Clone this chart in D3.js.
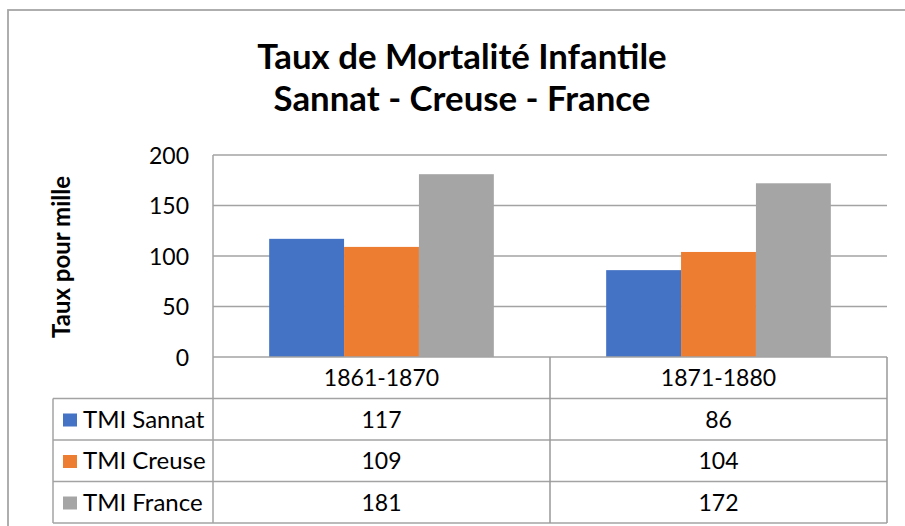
<!DOCTYPE html>
<html>
<head>
<meta charset="utf-8">
<script src="https://cdn.jsdelivr.net/npm/d3@7"></script>
<style>
  body { margin: 0; background: #fff; }
  svg { display: block; font-family: Lato, "Open Sans", sans-serif; }
</style>
</head>
<body>
<svg id="chart" width="905" height="526"></svg>
<script>
// data
const categories = ["1861-1870", "1871-1880"];
const seriesNames = ["TMI Sannat", "TMI Creuse", "TMI France"];
const sannat = [117, 86];
const creuse = [109, 104];
const france = [181, 172];
const seriesColors = ["#4472C4", "#ED7D31", "#A5A5A5"];
const yTicks = [0, 50, 100, 150, 200];
const titleLines = ["Taux de Mortalité Infantile", "Sannat - Creuse - France"];

const seriesValues = [sannat, creuse, france];

const svg = d3.select("#chart");
const plot = { left: 213, right: 887, top: 155, bottom: 357 };
const rowH = 41.5;
const legendLeft = 53;
const lineColor = "#a3a3a3";

// outer chart border (runs off the right/bottom edge)
svg.append("rect")
    .attr("x", 8).attr("y", 10)
    .attr("width", 920).attr("height", 540)
    .attr("fill", "none")
    .attr("stroke", "#a6a6a6")
    .attr("stroke-width", 1.8);

// title
svg.append("g").selectAll("text")
    .data(titleLines)
    .enter()
    .append("text")
    .attr("x", 462)
    .attr("y", (d, i) => 69 + i * 42)
    .attr("text-anchor", "middle")
    .attr("font-weight", "bold")
    .attr("font-size", "34.8px")
    .attr("fill", "#000")
    .text(d => d);

const x = d3.scaleBand()
    .domain(categories)
    .range([plot.left, plot.right]);

const bw = x.bandwidth();
const xs = d3.scaleBand()
    .domain(seriesNames)
    .range([bw / 6, bw * 5 / 6]);

const y = d3.scaleLinear()
    .domain([0, 200])
    .range([plot.bottom, plot.top]);

// gridlines
svg.append("g").selectAll("line")
    .data(yTicks.filter(t => t > 0))
    .enter()
    .append("line")
    .attr("x1", plot.left).attr("x2", plot.right)
    .attr("y1", d => y(d)).attr("y2", d => y(d))
    .attr("stroke", lineColor)
    .attr("stroke-width", 1.3);

// y axis labels
const yAxis = svg.append("g")
    .attr("transform", `translate(${plot.left - 24},0)`)
    .call(d3.axisLeft(y).tickValues(yTicks).tickSize(0).tickPadding(0));
yAxis.select(".domain").remove();
yAxis.selectAll("text")
    .attr("font-family", "Lato, sans-serif")
    .attr("font-size", "23px")
    .attr("fill", "#000")
    .attr("dy", "0.36em");

svg.append("text")
    .attr("transform", `translate(70,257) rotate(-90)`)
    .attr("text-anchor", "middle")
    .attr("font-weight", "bold")
    .attr("font-size", "24px")
    .attr("fill", "#000")
    .text("Taux pour mille");

// bars
const barData = [];
seriesNames.forEach((s, si) => {
    categories.forEach((c, ci) => {
        barData.push({ series: s, cat: c, value: seriesValues[si][ci], color: seriesColors[si] });
    });
});

svg.append("g").selectAll("rect")
    .data(barData)
    .enter()
    .append("rect")
    .attr("x", d => x(d.cat) + xs(d.series))
    .attr("y", d => y(d.value))
    .attr("width", xs.bandwidth())
    .attr("height", d => y(0) - y(d.value))
    .attr("fill", d => d.color);

// data table
const table = svg.append("g");
const tableBottom = plot.bottom + rowH * (seriesNames.length + 1);

// horizontal lines
table.append("line")
    .attr("x1", plot.left).attr("x2", plot.right)
    .attr("y1", plot.bottom).attr("y2", plot.bottom)
    .attr("stroke", lineColor).attr("stroke-width", 1.5);
d3.range(1, seriesNames.length + 2).forEach(i => {
    table.append("line")
        .attr("x1", legendLeft).attr("x2", plot.right)
        .attr("y1", plot.bottom + i * rowH).attr("y2", plot.bottom + i * rowH)
        .attr("stroke", lineColor).attr("stroke-width", 1.5);
});

// vertical lines
table.append("line")
    .attr("x1", legendLeft).attr("x2", legendLeft)
    .attr("y1", plot.bottom + rowH).attr("y2", tableBottom)
    .attr("stroke", lineColor).attr("stroke-width", 1.5);
table.append("line")
    .attr("x1", plot.left).attr("x2", plot.left)
    .attr("y1", plot.top).attr("y2", tableBottom)
    .attr("stroke", lineColor).attr("stroke-width", 1.5);
categories.forEach(c => {
    table.append("line")
        .attr("x1", x(c) + bw).attr("x2", x(c) + bw)
        .attr("y1", plot.bottom).attr("y2", tableBottom)
        .attr("stroke", "#999").attr("stroke-width", 1.5);
});

// header
table.selectAll(".hdr")
    .data(categories)
    .enter()
    .append("text")
    .attr("class", "hdr")
    .attr("x", d => x(d) + bw / 2)
    .attr("y", plot.bottom + 29)
    .attr("text-anchor", "middle")
    .attr("font-size", "23px")
    .text(d => d);

// rows
seriesNames.forEach((s, si) => {
    const top = plot.bottom + (si + 1) * rowH;
    table.append("rect")
        .attr("x", 63).attr("y", top + 15)
        .attr("width", 14).attr("height", 13)
        .attr("fill", seriesColors[si]);
    table.append("text")
        .attr("x", 83).attr("y", top + 29)
        .attr("font-size", "24px")
        .text(s);
    categories.forEach((c, ci) => {
        table.append("text")
            .attr("x", x(c) + bw / 2)
            .attr("y", top + 29)
            .attr("text-anchor", "middle")
            .attr("font-size", "23px")
            .text(seriesValues[si][ci]);
    });
});
</script>
</body>
</html>
